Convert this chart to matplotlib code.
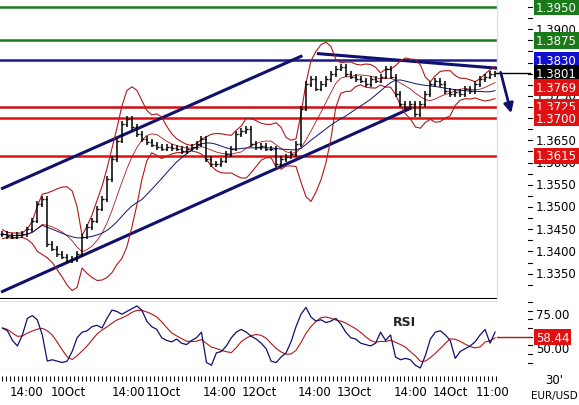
import numpy as np
import pandas as pd
import matplotlib
matplotlib.use("Agg")
import matplotlib.pyplot as plt
import matplotlib.transforms as mtrans

# закрытия 30-минуток (по одной точке на каждые ~5 px графика)
close = [1.3439, 1.3435, 1.3433, 1.3437, 1.3439, 1.3450, 1.3469, 1.3507, 1.3518, 1.3417,
         1.3406, 1.3394, 1.3388, 1.3379, 1.3383, 1.3394, 1.3433, 1.3455, 1.3469, 1.3496,
         1.3518, 1.3563, 1.3608, 1.3649, 1.3687, 1.3698, 1.3680, 1.3664, 1.3653, 1.3646,
         1.3640, 1.3635, 1.3631, 1.3635, 1.3633, 1.3631, 1.3626, 1.3631, 1.3635, 1.3642,
         1.3653, 1.3608, 1.3597, 1.3597, 1.3604, 1.3619, 1.3631, 1.3664, 1.3671, 1.3676,
         1.3642, 1.3635, 1.3637, 1.3631, 1.3631, 1.3597, 1.3608, 1.3613, 1.3619, 1.3642,
         1.3721, 1.3777, 1.3788, 1.3766, 1.3777, 1.3788, 1.3799, 1.3811, 1.3815, 1.3799,
         1.3793, 1.3788, 1.3784, 1.3777, 1.3788, 1.3784, 1.3793, 1.3811, 1.3793, 1.3754,
         1.3732, 1.3725, 1.3732, 1.3709, 1.3732, 1.3754, 1.3777, 1.3784, 1.3777, 1.3761,
         1.3754, 1.3759, 1.3754, 1.3766, 1.3761, 1.3777, 1.3788, 1.3793, 1.3799, 1.3801]

rsi = [65, 63, 56, 52, 60, 72, 74, 71, 60, 41,
       42, 41, 40, 41, 48, 58, 62, 63, 66, 67,
       65, 72, 78, 77, 75, 77, 79, 81, 78, 70,
       66, 64, 58, 56, 55, 57, 54, 53, 56, 58,
       62, 40, 38, 47, 48, 52, 58, 62, 64, 62,
       59, 57, 54, 50, 41, 40, 44, 47, 55, 66,
       75, 80, 73, 70, 71, 69, 70, 72, 68, 62,
       58, 57, 54, 53, 52, 54, 62, 56, 60, 44,
       42, 43, 42, 38, 36, 45, 57, 62, 63, 60,
       56, 43, 48, 50, 52, 55, 60, 64, 54, 62]

# уровни поддержки/сопротивления: (цена, цвет)
levels = [(1.3950, "#1a7a1a"), (1.3875, "#1a7a1a"), (1.3830, "#1a1a8a"),
          (1.3725, "#d01010"), (1.3700, "#e01010"), (1.3615, "#e01010")]
price_tags = [(1.3950, "#1a7a1a"), (1.3875, "#1a7a1a"), (1.3830, "#1010d0"),
              (1.3801, "#000000"), (1.3769, "#e01010"), (1.3725, "#e01010"),
              (1.3700, "#e01010"), (1.3615, "#e01010")]
price_ticks = [1.3350, 1.3400, 1.3450, 1.3500, 1.3550, 1.3600, 1.3650, 1.3900, 1.3750]

# трендовые линии в индексах баров
trend_lines = [((0, 1.3542), (60, 1.3839)), ((0, 1.3310), (82, 1.3722)),
               ((63.5, 1.3845), (102, 1.3810))]
arrow = ((100, 1.3809), (102.4, 1.3705))

xlabels = ["14:00", "10Oct", "14:00", "11Oct", "14:00", "12Oct",
           "14:00", "13Oct", "14:00", "14Oct", "11:00"]
xlabel_pos = [4.8, 13.2, 25.4, 32.4, 43.6, 51.6, 62.8, 70.8, 82.0, 90.0, 98.6]

W, H = 579, 406
fig = plt.figure(figsize=(W / 100, H / 100), dpi=100)
fig.patch.set_facecolor("white")
ax = fig.add_axes([0, 1 - 300 / H, 497 / W, 300 / H])
ax2 = fig.add_axes([0, 1 - 370 / H, 497 / W, 68 / H])

c = np.array(close)
n = len(c)
x = np.arange(n)
prev = np.r_[c[0], c[:-1]]
hi = np.maximum(prev, c) + 0.0006
lo = np.minimum(prev, c) - 0.0006

s = pd.Series(c)
mid = s.rolling(8, min_periods=1).mean()
sd = s.rolling(8, min_periods=2).std().fillna(0.0005)
ma = s.rolling(20, min_periods=1).mean()

for p, col in levels:
    ax.axhline(p, color=col, lw=1.8, zorder=2)
for (a, b) in trend_lines:
    ax.plot([a[0], b[0]], [a[1], b[1]], color="#10106e", lw=2.2, zorder=3)
ax.annotate("", xy=arrow[1], xytext=arrow[0],
            arrowprops=dict(arrowstyle="-|>", color="#10106e", lw=2, mutation_scale=14),
            annotation_clip=False)

ax.plot(x, mid + 2 * sd, color="#b01818", lw=0.8, zorder=3)
ax.plot(x, mid - 2 * sd, color="#b01818", lw=0.8, zorder=3)
ax.plot(x, mid, color="#b01818", lw=0.6, zorder=3)
ax.plot(x, ma, color="#10106e", lw=0.7, zorder=3)
ax.vlines(x, lo, hi, color="black", lw=1.1, zorder=4)
ax.hlines(prev, x - 0.4, x, color="black", lw=1, zorder=4)
ax.hlines(c, x, x + 0.4, color="black", lw=1, zorder=4)

ymin, ymax = 1.3293, 1.3968
ax.set_xlim(-0.5, 99.4)
ax.set_ylim(ymin, ymax)
ax.set_xticks([])
ax.set_yticks([])
for sp in ax.spines.values():
    sp.set_visible(False)
ax.axhline(ymin, color="black", lw=1.5)

FS = 8.5
tr = mtrans.blended_transform_factory(fig.transFigure, ax.transData)
for p in price_ticks:
    ax.text(536 / W, p, "%.4f" % p, transform=tr, fontsize=FS, va="center", ha="left", clip_on=False)
for p in np.arange(1.3325, 1.3960, 0.0025):
    ax.plot([528 / W, 532 / W], [p, p], transform=tr, color="black", lw=0.8, clip_on=False)
ax.plot([497 / W, 497 / W], [ymin, ymax], transform=tr, color="#d8e4ee", lw=1, clip_on=False)
for p, col in price_tags:
    ax.text(536 / W, p, "%.4f" % p, transform=tr, fontsize=FS, color="white", va="center",
            ha="left", clip_on=False,
            bbox=dict(boxstyle="square,pad=0.15", fc=col, ec="none"))
ax.plot([497 / W, 530 / W], [1.3801, 1.3801], transform=tr, color="black", lw=1, clip_on=False)

# RSI
r = pd.Series(rsi, dtype=float)
sig = r.rolling(6, min_periods=1).mean()
ax2.plot(x, sig, color="#b01818", lw=0.8)
ax2.plot(x, r, color="#10106e", lw=0.9)
ax2.set_xlim(-0.5, 99.4)
ax2.set_ylim(35.3, 84.6)
ax2.set_xticks([])
ax2.set_yticks([])
for sp in ax2.spines.values():
    sp.set_visible(False)
ax2.axhline(84.6, color="#d8e4ee", lw=1)
ax2.axhline(35.3, color="#d8e4ee", lw=1)
ax2.text(0.79, 0.8, "RSI", transform=ax2.transAxes, fontsize=9, fontweight="bold", va="top",
         color="#222222")
tr2 = mtrans.blended_transform_factory(fig.transFigure, ax2.transData)
for v in [75, 50]:
    ax2.text(536 / W, v, "%.2f" % v, transform=tr2, fontsize=FS, va="center", clip_on=False)
for v in np.arange(40, 85, 6.25):
    ax2.plot([528 / W, 532 / W], [v, v], transform=tr2, color="black", lw=0.8, clip_on=False)
ax2.text(536 / W, 58.44, "58.44", transform=tr2, fontsize=FS, color="white", va="center",
         clip_on=False, bbox=dict(boxstyle="square,pad=0.15", fc="#e01010", ec="none"))
ax2.plot([497 / W, 530 / W], [58.44, 58.44], transform=tr2, color="#b01818", lw=1, clip_on=False)

# нижняя шкала времени
tick_ax = fig.add_axes([0, 0, 497 / W, 1], facecolor="none")
tick_ax.set_xlim(-0.5, 99.4)
tick_ax.set_ylim(H, 0)
tick_ax.axis("off")
tick_ax.vlines(np.arange(0, 100, 0.8), 377, 382, color="black", lw=0.7)
for pos, lab in zip(xlabel_pos, xlabels):
    tick_ax.text(pos, 393, lab, ha="center", va="center", fontsize=FS)
fig.text(554 / W, 1 - 381 / H, "30'", ha="center", va="center", fontsize=FS)
fig.text(554 / W, 1 - 396 / H, "EUR/USD", ha="center", va="center", fontsize=FS - 1)

fig.savefig("out.png", dpi=100)
